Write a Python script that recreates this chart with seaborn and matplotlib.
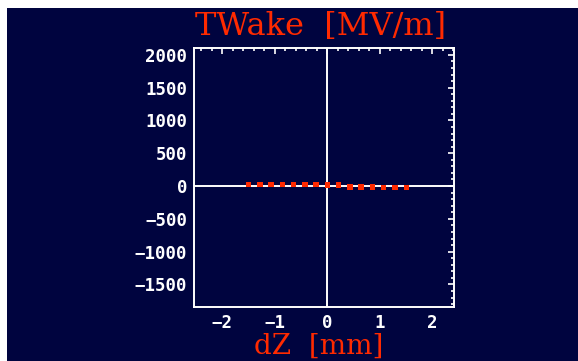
import matplotlib
matplotlib.use('Agg')
import matplotlib.pyplot as plt
from matplotlib.ticker import MultipleLocator
from matplotlib.patches import Rectangle
import pandas as pd
import seaborn as sns

# wake samples
dz = [-1.5, -1.286, -1.071, -0.857, -0.643, -0.429, -0.214, 0.0,
      0.214, 0.429, 0.643, 0.857, 1.071, 1.286, 1.5]
twake = [22, 22, 21, 21, 20, 20, 19, 18, 17, -15, -16, -17, -18, -18, -19]
xticks = [-2, -1, 0, 1, 2]
yticks = [-1500, -1000, -500, 0, 500, 1000, 1500, 2000]

navy = '#00043f'
red = '#ff2a00'

sns.set_style('dark')
plt.rcParams['font.family'] = ['DejaVu Sans']

df = pd.DataFrame({'dz': dz, 'twake': twake})

fig = plt.figure(figsize=(5.78, 3.61), dpi=100, facecolor='white')
fig.patches.append(Rectangle((7 / 578, 0), 1, 1 - 8 / 361, transform=fig.transFigure,
                             facecolor=navy, edgecolor='none', zorder=-5))
ax = fig.add_axes([194 / 578, 1 - 306.7 / 361, 260 / 578, (306.7 - 48) / 361])
ax.set_facecolor(navy)

ax.axhline(0, color='white', lw=1.4, zorder=1)
ax.axvline(0, color='white', lw=1.4, zorder=1)
sns.scatterplot(data=df, x='dz', y='twake', marker='s', s=15, color=red,
                edgecolor='none', ax=ax, zorder=3)

ax.set_xlim(-2.54, 2.41)
ax.set_ylim(-1840, 2105)
ax.set_xticks(xticks)
ax.set_yticks(yticks)
ax.xaxis.set_minor_locator(MultipleLocator(0.2))
ax.yaxis.set_minor_locator(MultipleLocator(100))
ax.tick_params(which='both', direction='in', colors='white', top=True, right=True,
               labelsize=12.5)
ax.tick_params(which='major', length=4, width=1.2)
ax.tick_params(which='minor', length=2.5, width=1.2)
ax.tick_params(axis='y', pad=5)
ax.tick_params(axis='x', pad=5)
for lab in ax.get_xticklabels() + ax.get_yticklabels():
    lab.set_fontweight('bold')
    lab.set_family('DejaVu Sans Mono')
for sp in ax.spines.values():
    sp.set_visible(True)
    sp.set_color('white')
    sp.set_linewidth(1.4)
ax.grid(False)
ax.set_xlabel('')
ax.set_ylabel('')

fig.text(321 / 578, 1 - 35 / 361, 'TWake  [MV/m]', color=red, fontsize=23,
         family='DejaVu Serif', ha='center', va='baseline')
fig.text(319 / 578, 1 - 354 / 361, 'dZ  [mm]', color=red, fontsize=20,
         family='DejaVu Serif', ha='center', va='baseline')

fig.savefig('out.png', dpi=100, facecolor='white')
